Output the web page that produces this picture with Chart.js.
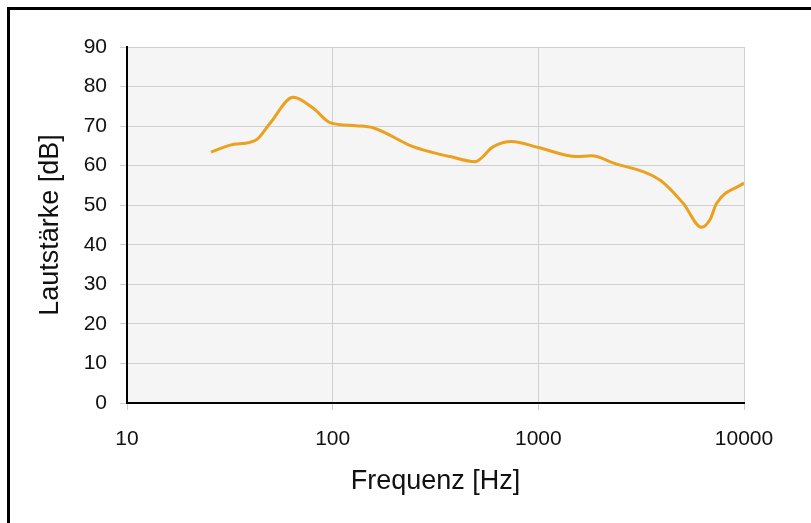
<!DOCTYPE html>
<html>
<head>
<meta charset="utf-8">
<script src="https://cdn.jsdelivr.net/npm/chart.js@4/dist/chart.umd.min.js"></script>
<style>
  html, body { margin: 0; padding: 0; background: #fff; }
  #wrap { position: relative; width: 811px; height: 523px; }
  #frame {
    position: absolute; left: 7px; top: 7px; right: -10px; bottom: -10px;
    border-top: 3px solid #000; border-left: 3px solid #000;
    pointer-events: none;
  }
</style>
</head>
<body>
<div id="wrap">
  <canvas id="chart" width="811" height="523"></canvas>
  <div id="frame"></div>
</div>
<script>
// Frequency response (Hz / dB)
const freqs = [25.6, 31.7, 39.6, 43, 49.6, 64.3, 80.5, 97, 130, 157, 246, 308, 372, 492, 604, 741, 1000, 1535, 1815, 2312, 3899, 5060, 6219, 6826, 7360, 10000];
const levels = [63.4, 65.2, 65.9, 66.7, 70.7, 77.3, 74.5, 70.9, 70.1, 69.6, 64.8, 63.3, 62.3, 61.0, 64.8, 66.1, 64.6, 62.3, 62.5, 60.7, 56.4, 50.5, 44.4, 46.3, 50.5, 55.6];

const xTicks = [10, 100, 1000, 10000];
const xTickLabels = ['10', '100', '1000', '10000'];
const yTicks = [0, 10, 20, 30, 40, 50, 60, 70, 80, 90];

const points = freqs.map((f, i) => ({ x: f, y: levels[i] }));

const plotBg = {
  id: 'plotBg',
  beforeDraw(chart) {
    const { ctx, chartArea: a } = chart;
    ctx.save();
    ctx.fillStyle = '#f5f5f5';
    ctx.fillRect(a.left, a.top, a.right - a.left, a.bottom - a.top);
    ctx.restore();
  }
};

const family = '"Liberation Sans", Arial, sans-serif';
const tickFont = { family: family, size: 21 };
const titleFont = { family: family, size: 27 };

new Chart(document.getElementById('chart'), {
  type: 'line',
  data: {
    datasets: [{
      data: points,
      borderColor: '#eba11f',
      borderWidth: 3,
      pointRadius: 0,
      fill: false,
      cubicInterpolationMode: 'monotone'
    }]
  },
  options: {
    responsive: false,
    animation: false,
    layout: { padding: { left: 0, right: 67, top: 47, bottom: 0 } },
    plugins: { legend: { display: false }, tooltip: { enabled: false } },
    scales: {
      x: {
        type: 'logarithmic',
        min: 10,
        max: 10000,
        afterBuildTicks: scale => { scale.ticks = xTicks.map(v => ({ value: v })); },
        afterFit: scale => { scale.height = 120; },
        ticks: {
          color: '#111',
          font: tickFont,
          padding: 17,
          maxRotation: 0,
          autoSkip: false,
          callback: (v) => xTickLabels[xTicks.indexOf(v)]
        },
        grid: { color: '#cfcfcf', lineWidth: 1, tickLength: 7 },
        border: { color: '#000', width: 2 },
        title: {
          display: true,
          text: 'Frequenz [Hz]',
          color: '#111',
          font: titleFont,
          padding: { top: 0, bottom: 25 }
        }
      },
      y: {
        min: 0,
        max: 90,
        afterBuildTicks: scale => { scale.ticks = yTicks.map(v => ({ value: v })); },
        afterFit: scale => { scale.width = 127; },
        ticks: { color: '#111', font: tickFont, padding: 13 },
        grid: { color: '#cfcfcf', lineWidth: 1, tickLength: 7 },
        border: { color: '#000', width: 2 },
        title: {
          display: true,
          text: 'Lautstärke [dB]',
          color: '#111',
          font: titleFont,
          padding: { top: 34, bottom: 0 }
        }
      }
    }
  },
  plugins: [plotBg]
});
</script>
</body>
</html>
